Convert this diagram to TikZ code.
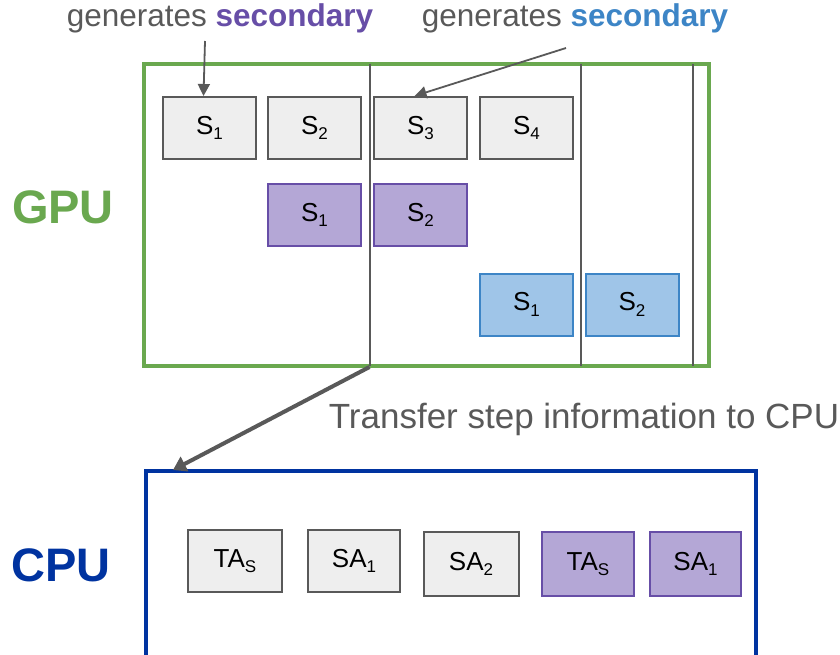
\documentclass[tikz,border=0pt]{standalone}
\usepackage{fontspec}
\setmainfont{Liberation Sans}
\usetikzlibrary{arrows.meta}
\definecolor{inkgray}{HTML}{595959}
\definecolor{boxgray}{HTML}{EEEEEE}
\definecolor{purfill}{HTML}{B4A7D6}
\definecolor{purline}{HTML}{674EA7}
\definecolor{blufill}{HTML}{9FC5E8}
\definecolor{bluline}{HTML}{3D85C6}
\definecolor{gpugreen}{HTML}{6AA84F}
\definecolor{cpublue}{HTML}{0033A0}
\newcommand{\lowsub}[1]{\raisebox{-0.22em}{\fontsize{17}{17}\selectfont #1}}
\begin{document}
\begin{tikzpicture}[x=1pt,y=-1pt,
  cell/.style={draw=inkgray,fill=boxgray,line width=2pt,minimum width=93pt,minimum height=62pt,
    inner sep=0pt,font=\fontsize{26}{28}\selectfont,text=black},
  purcell/.style={cell,draw=purline,fill=purfill},
  blucell/.style={cell,draw=bluline,fill=blufill},
  divider/.style={draw=inkgray,line width=2pt},
  pointer/.style={draw=inkgray,line width=1.8pt,-{Triangle[length=12pt,width=12pt]}},
  bigpointer/.style={draw=inkgray,line width=4pt,-{Triangle[length=13pt,width=16pt]}},
  caption/.style={text=inkgray,inner sep=0pt,font=\fontsize{31.5}{34}\selectfont}]
\useasboundingbox (0,0) rectangle (840,654);

% GPU frame with its step dividers
\draw[gpugreen,line width=3.5pt] (144,64) rectangle (709,366);
\draw[divider] (369.5,64) -- (369.5,366);
\draw[divider] (581,64) -- (581,366);
\draw[divider] (693,64) -- (693,366);

% primary steps
\node[cell] (s1) at (209.5,128) {S\lowsub{1}};
\node[cell] (s2) at (314.5,128) {S\lowsub{2}};
\node[cell] (s3) at (420.5,128) {S\lowsub{3}};
\node[cell] (s4) at (526.5,128) {S\lowsub{4}};
% first secondary steps
\node[purcell] (p1) at (314.5,215) {S\lowsub{1}};
\node[purcell] (p2) at (420.5,215) {S\lowsub{2}};
% second secondary steps
\node[blucell] (b1) at (526.5,304.5) {S\lowsub{1}};
\node[blucell] (b2) at (632,304.5) {S\lowsub{2}};

% labels above
\node[caption] (genA) at (220,18) {generates \textbf{\textcolor{purline}{secondary}}};
\node[caption] (genB) at (575,18) {generates \textbf{\textcolor{bluline}{secondary}}};
\coordinate (fromA) at (205,41);
\coordinate (fromB) at (566,48);
\draw[pointer] (fromA) -- ([xshift=-6pt]s1.north);
\draw[pointer] (fromB) -- ([xshift=-6pt]s3.north);

\node[text=gpugreen,font=\bfseries\fontsize{47}{50}\selectfont,inner sep=0pt] (gpu) at (63,207) {GPU};
\node[text=cpublue,font=\bfseries\fontsize{47}{50}\selectfont,inner sep=0pt] (cpu) at (61,565) {CPU};

% CPU frame, running past the lower edge
\draw[cpublue,line width=3.5pt] (146,660) -- (146,471) -- (756,471) -- (756,660);
\coordinate (gpuout) at (369.5,367);
\coordinate (cpuin) at (173,470);
\draw[bigpointer] (gpuout) -- (cpuin);
\node[caption,font=\fontsize{35}{38}\selectfont] (xfer) at (584,419) {Transfer step information to CPU};

% step information on the CPU
\node[cell,minimum width=94pt] (ta) at (235,561) {TA\lowsub{S}};
\node[cell,minimum width=92pt] (sa1) at (354,561) {SA\lowsub{1}};
\node[cell,minimum width=95pt,minimum height=64pt] (sa2) at (471,564) {SA\lowsub{2}};
\node[purcell,minimum width=92pt,minimum height=64pt] (tap) at (588,564) {TA\lowsub{S}};
\node[purcell,minimum width=91pt,minimum height=64pt] (sap) at (695.5,564) {SA\lowsub{1}};
\end{tikzpicture}
\end{document}
